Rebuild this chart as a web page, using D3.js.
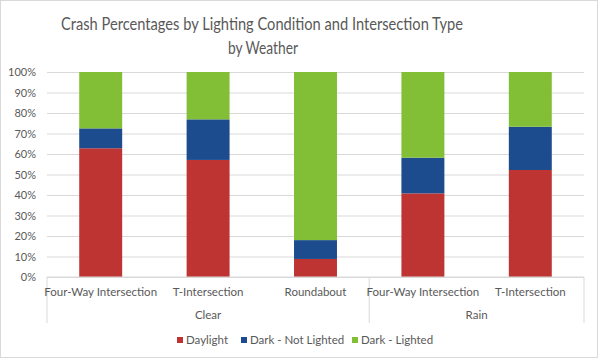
<!DOCTYPE html>
<html>
<head>
<meta charset="utf-8">
<script src="https://cdn.jsdelivr.net/npm/d3@7"></script>
<style>
  body { margin: 0; background: #fff; }
  text { font-family: Lato, "Open Sans", sans-serif; fill: #595959; }
</style>
</head>
<body>
<div id="chart"></div>
<script>
// data
const weather = ['Clear', 'Clear', 'Clear', 'Rain', 'Rain']
const intersections = ['Four-Way Intersection', 'T-Intersection', 'Roundabout', 'Four-Way Intersection', 'T-Intersection']
const daylight = [62.8, 57.1, 8.8, 40.8, 52.2]
const darkNotLighted = [9.7, 19.8, 9.2, 17.4, 21.1]
const darkLighted = [27.5, 23.1, 82.0, 41.8, 26.7]
const seriesNames = ['Daylight', 'Dark - Not Lighted', 'Dark - Lighted']
const colors = ['#BE3433', '#1D4C8E', '#82BE36']
const yTicks = [0, 10, 20, 30, 40, 50, 60, 70, 80, 90, 100]

const width = 600, height = 360
const margin = ({top: 72, right: 16, bottom: 77, left: 47})

const rows = intersections.map((d, i) => ({
  key: i, name: d, weather: weather[i],
  'Daylight': daylight[i], 'Dark - Not Lighted': darkNotLighted[i], 'Dark - Lighted': darkLighted[i]
}))
const stacked = d3.stack().keys(seriesNames)(rows)

const svg = d3.select('#chart').append('svg')
  .attr('width', width)
  .attr('height', height)

// border
svg.append('rect')
  .attr('x', 0.5).attr('y', 0.5)
  .attr('width', width - 3).attr('height', height - 3)
  .attr('fill', '#fff')
  .attr('stroke', '#d9d9d9')

// title
const title = svg.append('text')
  .attr('text-anchor', 'middle')
  .attr('font-size', 16.5)
title.append('tspan').attr('x', 262).attr('y', 30)
  .attr('textLength', 402).attr('lengthAdjust', 'spacingAndGlyphs')
  .text('Crash Percentages by Lighting Condition and Intersection Type')
title.append('tspan').attr('x', 263).attr('y', 54)
  .attr('textLength', 70).attr('lengthAdjust', 'spacingAndGlyphs')
  .text('by Weather')

const x = d3.scaleBand()
  .domain(rows.map(d => d.key))
  .range([margin.left, width - margin.right])
  .paddingInner(0.6)
  .paddingOuter(0.3)

const y = d3.scaleLinear()
  .domain([0, 100])
  .range([height - margin.bottom - 6, margin.top])

const plotBottom = y(0)

// y axis with gridlines
svg.append('g')
  .attr('transform', `translate(${margin.left},0)`)
  .call(d3.axisLeft(y).tickValues(yTicks).tickFormat(d => d + '%')
    .tickSize(-(width - margin.left - margin.right)).tickPadding(11))
  .call(g => g.select('.domain').remove())
  .call(g => g.selectAll('.tick line').attr('stroke', '#d9d9d9'))
  .call(g => g.selectAll('.tick text').attr('font-size', 11).attr('fill', '#595959')
    .style('font-family', 'Lato, sans-serif'))

// bars
svg.append('g')
  .selectAll('g')
  .data(stacked)
  .join('g')
  .attr('fill', (d, i) => colors[i])
  .selectAll('rect')
  .data(d => d)
  .join('rect')
  .attr('x', d => x(d.data.key))
  .attr('y', d => y(d[1]))
  .attr('width', x.bandwidth())
  .attr('height', d => y(d[0]) - y(d[1]))

// x axis (two-level)
const xa = svg.append('g').attr('stroke', '#d9d9d9')
xa.append('line')
  .attr('x1', margin.left).attr('x2', width - margin.right)
  .attr('y1', plotBottom).attr('y2', plotBottom)

const step = x.step()
const catX = k => x(k) + x.bandwidth() / 2
const groups = d3.groups(rows, d => d.weather)
const sepY2 = plotBottom + 46
let bounds = [margin.left]
groups.forEach(([w, items]) => {
  const last = items[items.length - 1].key
  bounds.push(catX(last) + step / 2)
})
bounds.forEach(b => {
  xa.append('line')
    .attr('x1', b).attr('x2', b)
    .attr('y1', plotBottom).attr('y2', sepY2)
})

svg.append('g')
  .selectAll('text')
  .data(rows)
  .join('text')
  .attr('x', d => catX(d.key))
  .attr('y', plotBottom + 19)
  .attr('text-anchor', 'middle')
  .attr('font-size', 11.5)
  .text(d => d.name)

svg.append('g')
  .selectAll('text')
  .data(groups)
  .join('text')
  .attr('x', (d, i) => (bounds[i] + bounds[i + 1]) / 2)
  .attr('y', plotBottom + 42)
  .attr('text-anchor', 'middle')
  .attr('font-size', 11.5)
  .text(d => d[0])

// legend
const legend = svg.append('g').attr('transform', `translate(0,${height - 20})`)
const legendX = [177, 241, 352]
seriesNames.forEach((s, i) => {
  legend.append('rect')
    .attr('x', legendX[i]).attr('y', -3)
    .attr('width', 6).attr('height', 6)
    .attr('fill', colors[i])
  legend.append('text')
    .attr('x', legendX[i] + 9).attr('y', 4)
    .attr('font-size', 11.5)
    .text(s)
})
</script>
</body>
</html>
